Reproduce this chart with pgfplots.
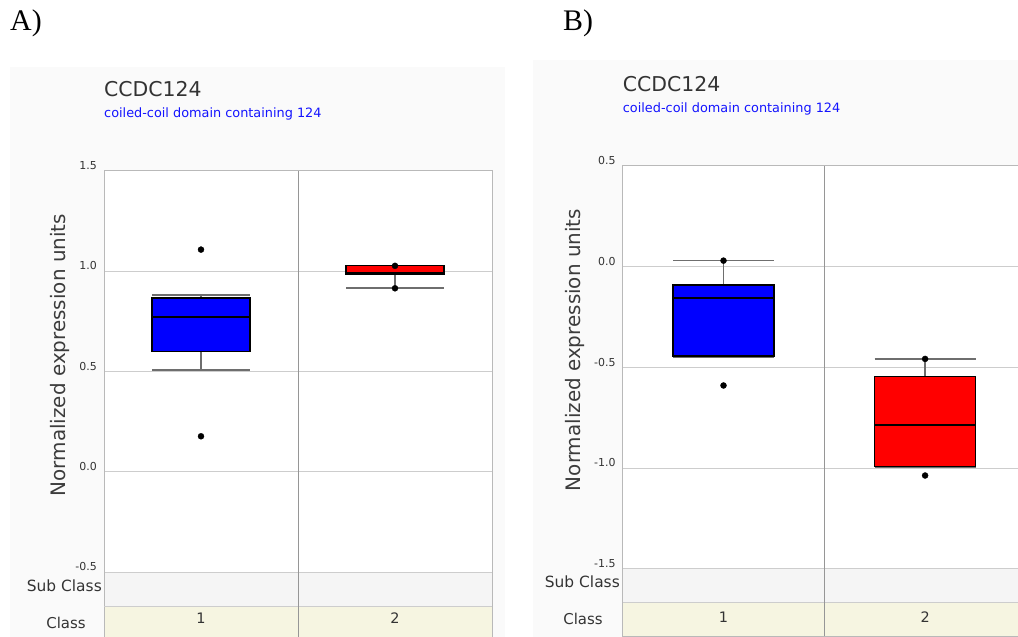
\documentclass[border=0pt]{standalone}
\usepackage{fontspec}
\setmainfont{DejaVu Sans}
\newfontfamily\timesfont{Liberation Serif}
\usepackage{pgfplots}
\pgfplotsset{compat=1.18}
\usepgfplotslibrary{statistics}
\definecolor{gridc}{RGB}{205,205,205}
\definecolor{divc}{RGB}{150,150,150}
\definecolor{borderc}{RGB}{185,185,185}
\definecolor{subc}{RGB}{245,245,245}
\definecolor{classc}{RGB}{246,245,225}
\definecolor{titlec}{RGB}{51,51,51}
\definecolor{whc}{RGB}{110,110,110}
\definecolor{panelbg}{RGB}{250,250,250}
\definecolor{subt}{RGB}{20,20,255}
\pgfplotsset{
  panel/.style={
    scale only axis, anchor=south west,
    xmin=0, xmax=2,
    xtick={0.5,1.5}, xticklabels={1,2},
    major tick length=0pt,
    ymajorgrids, grid style={gridc, line width=1bp},
    axis line style={borderc, line width=1bp},
    clip=false,
    scaled y ticks=false,
    /pgf/number format/assume math mode=true,
    yticklabel={\pgfmathprintnumber[fixed,fixed zerofill,precision=1]{\tick}},
    yticklabel style={anchor=south east, inner sep=0pt, xshift=-7bp, yshift=1bp,
      font=\fontsize{11}{11}\selectfont, text=titlec},
    xticklabel style={anchor=base, inner sep=0pt, yshift=14bp,
      font=\fontsize{14.5}{14.5}\selectfont, text=titlec},
    ylabel={Normalized expression units},
    ylabel style={anchor=center, font=\fontsize{20}{20}\selectfont, text={rgb,255:red,60;green,60;blue,60}},
  },
  bx/.style={
    boxplot/draw direction=y,
    boxplot/every box/.style={draw=black, fill=#1, line width=1.3bp},
    boxplot/every whisker/.style={draw=whc, line width=1.6bp},
    boxplot/every median/.style={draw=black, line width=2.2bp},
    draw=black, mark=*, mark size=3bp, mark options={draw=black, fill=black},
  },
}
\begin{document}
\begin{tikzpicture}
\useasboundingbox (0,0) rectangle (1018bp,637bp);
\fill[white] (0,0) rectangle (1018bp,637bp);
\fill[panelbg] (10bp,0) rectangle (505bp,570bp);
\fill[panelbg] (533bp,0) rectangle (1018bp,577bp);
% plot areas and class bands
\fill[white] (104bp,0) rectangle (492bp,466bp);
\fill[classc] (104bp,0) rectangle (492bp,31bp);
\fill[subc] (104bp,31bp) rectangle (492bp,65bp);
\fill[white] (622.7bp,1bp) rectangle (1025.9bp,471bp);
\fill[classc] (622.7bp,1bp) rectangle (1025.9bp,34.7bp);
\fill[subc] (622.7bp,34.7bp) rectangle (1025.9bp,68.3bp);
\node[anchor=base west, inner sep=0, font=\timesfont\fontsize{30}{30}\selectfont] at (10bp,606bp) {A)};
\node[anchor=base west, inner sep=0, font=\timesfont\fontsize{30}{30}\selectfont] at (563bp,606bp) {B)};
\node[anchor=base west, inner sep=0, text=titlec, font=\fontsize{20.5}{20.5}\selectfont] at (104bp,540bp) {CCDC124};
\node[anchor=base west, inner sep=0, text=subt, font=\fontsize{12.9}{12.9}\selectfont] at (104bp,519bp) {coiled-coil domain containing 124};
\node[anchor=base west, inner sep=0, text=titlec, font=\fontsize{20.5}{20.5}\selectfont] at (622.7bp,545.3bp) {CCDC124};
\node[anchor=base west, inner sep=0, text=subt, font=\fontsize{12.9}{12.9}\selectfont] at (622.7bp,524.3bp) {coiled-coil domain containing 124};

% Panel A
\begin{axis}[panel, at={(104bp,0bp)}, width=388bp, height=466bp,
  ymin=-0.824, ymax=1.5, ytick={-0.5,0,0.5,1,1.5},
  ylabel style={at={(axis description cs:-0.113,0.605)}}]
\draw[gridc, line width=1bp] (axis cs:0,-0.67) -- (axis cs:2,-0.67);
\draw[divc, line width=1bp] (axis cs:1,-0.824) -- (axis cs:1,1.5);
\addplot[bx=blue, boxplot prepared={draw position=0.5, lower whisker=0.508, lower quartile=0.60, median=0.77, upper quartile=0.867, upper whisker=0.883, box extend=0.505, whisker extend=0.505}] coordinates {(0,1.108) (0,0.177)};
\addplot[bx=red, boxplot prepared={draw position=1.5, lower whisker=0.915, lower quartile=0.987, median=0.99, upper quartile=1.027, upper whisker=1.027, box extend=0.505, whisker extend=0.505}] coordinates {(0,1.027) (0,0.915)};
\end{axis}

% Panel B
\begin{axis}[panel, at={(622.7bp,1bp)}, width=403.2bp, height=470bp,
  ymin=-1.834, ymax=0.5, ytick={-1.5,-1,-0.5,0,0.5},
  ylabel style={at={(axis description cs:-0.118,0.6085)}}]
\draw[gridc, line width=1bp] (axis cs:0,-1.667) -- (axis cs:2,-1.667);
\draw[divc, line width=1bp] (axis cs:1,-1.834) -- (axis cs:1,0.5);
\addplot[bx=blue, boxplot prepared={draw position=0.5, lower whisker=-0.45, lower quartile=-0.443, median=-0.157, upper quartile=-0.091, upper whisker=0.03, box extend=0.5, whisker extend=0.5}] coordinates {(0,0.03) (0,-0.59)};
\addplot[bx=red, boxplot prepared={draw position=1.5, lower whisker=-0.997, lower quartile=-0.994, median=-0.788, upper quartile=-0.546, upper whisker=-0.458, box extend=0.5, whisker extend=0.5}] coordinates {(0,-0.458) (0,-1.037)};
\end{axis}

\node[anchor=base east, inner sep=0, text=titlec, font=\fontsize{15.5}{15.5}\selectfont] at (102bp,45bp) {Sub Class};
\node[anchor=base, inner sep=0, text=titlec, font=\fontsize{15}{15}\selectfont] at (66bp,9bp) {Class};
\node[anchor=base east, inner sep=0, text=titlec, font=\fontsize{15.5}{15.5}\selectfont] at (620bp,49bp) {Sub Class};
\node[anchor=base, inner sep=0, text=titlec, font=\fontsize{15}{15}\selectfont] at (583bp,13bp) {Class};
\end{tikzpicture}
\end{document}
